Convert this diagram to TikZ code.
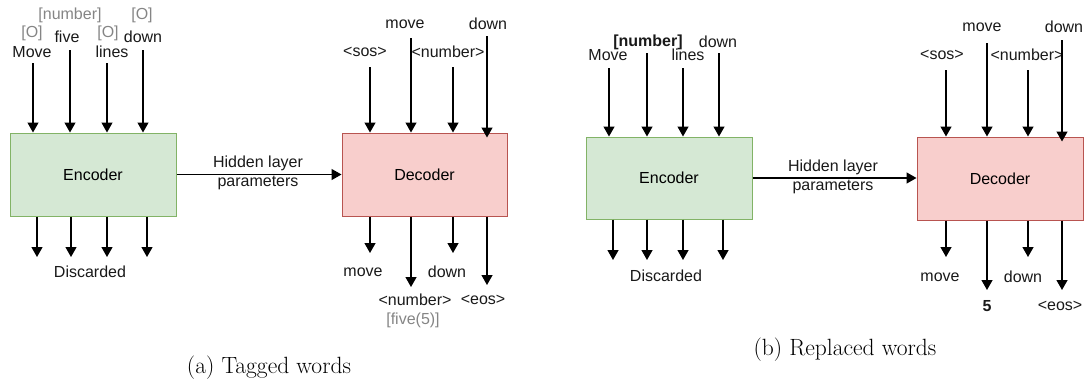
\documentclass[tikz,border=0pt]{standalone}
\usepackage{fontspec}
\setsansfont{Liberation Sans}
\usetikzlibrary{arrows.meta}
\definecolor{encfill}{HTML}{D5E8D4}
\definecolor{encdraw}{HTML}{82B366}
\definecolor{decfill}{HTML}{F8CECC}
\definecolor{decdraw}{HTML}{B85450}
\definecolor{taggray}{HTML}{858585}
\tikzset{
  lbl/.style={font=\sffamily\fontsize{16}{18}\selectfont, inner sep=0pt, text=black!90},
  tag/.style={lbl, text=taggray},
  boldlbl/.style={lbl, font=\sffamily\bfseries\fontsize{16}{18}\selectfont},
  encbox/.style={draw=encdraw, fill=encfill, line width=1pt, minimum width=166pt, minimum height=83pt, inner sep=0pt, font=\sffamily\fontsize{16}{18}\selectfont},
  decbox/.style={draw=decdraw, fill=decfill, line width=1pt, minimum width=165pt, minimum height=83pt, inner sep=0pt, font=\sffamily\fontsize{16}{18}\selectfont},
  arr/.style={line width=1.3pt, -{Triangle[length=10pt,width=11pt]}},
  subcaption/.style={font=\fontsize{23.5}{28}\selectfont, inner sep=0pt}
}
\begin{document}
\begin{tikzpicture}[x=1pt,y=-1pt]
\useasboundingbox (0,0) rectangle (1086,380);

% ---------- (a) tagged words ----------
\node[encbox] (E1) at (93,174.5) {Encoder};
\node[decbox] (D1) at (424.5,174.5) {Decoder};
\draw[arr] (E1.east) -- (D1.west);
\node[lbl] (h1a) at (258,163) {Hidden layer};
\node[lbl] (h1b) at (258,183) {parameters};

% encoder inputs
\node[lbl] (ma) at (32,52) {Move};  \node[tag] (ta1) at (32,33) {[O]};
\node[lbl] (fa) at (67,37) {five};  \node[tag] (ta2) at (70,15) {[number]};
\node[lbl] (la) at (112,52) {lines}; \node[tag] (ta3) at (108,33) {[O]};
\node[lbl] (da) at (143,37) {down}; \node[tag] (ta4) at (142,15) {[O]};
\coordinate (ei1) at (33,63);
\coordinate (ei2) at (70,50);
\coordinate (ei3) at (107,63);
\coordinate (ei4) at (143,50);
\foreach \c in {ei1,ei2,ei3,ei4} \draw[arr] (\c) -- (\c |- E1.north);

% encoder outputs
\coordinate (eo1) at (37,257);
\coordinate (eo2) at (71,257);
\coordinate (eo3) at (107,257);
\coordinate (eo4) at (147,257);
\foreach \c in {eo1,eo2,eo3,eo4} \draw[arr] (\c |- E1.south) -- (\c);
\node[lbl] (disc1) at (90,272) {Discarded};

% decoder inputs
\node[lbl] (sa) at (365,52) {<sos>};
\node[lbl] (mva) at (405,24) {move};
\node[lbl] (na) at (448,52) {<number>};
\node[lbl] (dwa) at (488,24) {down};
\coordinate (di1) at (370,67);
\coordinate (di2) at (411,38);
\coordinate (di3) at (453,67);
\coordinate (di4) at (487,36);
\foreach \c in {di1,di2,di3} \draw[arr] (\c) -- (\c |- D1.north);
\draw[arr] (di4) -- ([yshift=-5pt]di4 |- D1.north);

% decoder outputs
\coordinate (do1) at (370,253);
\coordinate (do2) at (411,287);
\coordinate (do3) at (453,253);
\coordinate (do4) at (487,285);
\foreach \c in {do1,do2,do3,do4} \draw[arr] (\c |- D1.south) -- (\c);
\node[lbl] (oa1) at (363,272) {move};
\node[lbl] (oa2) at (415,300) {<number>};
\node[tag] (oa2t) at (413,320) {[five(5)]};
\node[lbl] (oa3) at (447,272) {down};
\node[lbl] (oa4) at (483,300) {<eos>};

\node[subcaption] (capa) at (269,368) {(a) Tagged words};

% ---------- (b) replaced words ----------
\node[encbox, minimum height=82pt] (E2) at (669,178) {Encoder};
\node[decbox, minimum width=166pt] (D2) at (1000,178.5) {Decoder};
\draw[arr] (E2.east) -- (D2.west |- E2.east);
\node[lbl] (h2a) at (833,167) {Hidden layer};
\node[lbl] (h2b) at (833,187) {parameters};

% encoder inputs
\node[lbl] (mb) at (608,55) {Move};
\node[boldlbl] (nb) at (648,42) {[number]};
\node[lbl] (lb) at (688,55) {lines};
\node[lbl] (db) at (718,42) {down};
\coordinate (fi1) at (609,68);
\coordinate (fi2) at (647,53);
\coordinate (fi3) at (683,68);
\coordinate (fi4) at (719,53);
\foreach \c in {fi1,fi2,fi3,fi4} \draw[arr] (\c) -- (\c |- E2.north);

% encoder outputs
\coordinate (fo1) at (613,260);
\coordinate (fo2) at (647,260);
\coordinate (fo3) at (683,260);
\coordinate (fo4) at (723,260);
\foreach \c in {fo1,fo2,fo3,fo4} \draw[arr] (\c |- E2.south) -- (\c);
\node[lbl] (disc2) at (666,276) {Discarded};

% decoder inputs
\node[lbl] (sb) at (942,55) {<sos>};
\node[lbl] (mvb) at (982,27) {move};
\node[lbl] (nbb) at (1027,55) {<number>};
\node[lbl] (dwb) at (1064,27) {down};
\coordinate (gi1) at (946,70);
\coordinate (gi2) at (987,43);
\coordinate (gi3) at (1028,70);
\coordinate (gi4) at (1062,40);
\foreach \c in {gi1,gi2,gi3} \draw[arr] (\c) -- (\c |- D2.north);
\draw[arr] (gi4) -- ([yshift=-5pt]gi4 |- D2.north);

% decoder outputs
\coordinate (go1) at (946,257);
\coordinate (go2) at (987,290);
\coordinate (go3) at (1028,257);
\coordinate (go4) at (1062,290);
\foreach \c in {go1,go2,go3,go4} \draw[arr] (\c |- D2.south) -- (\c);
\node[lbl] (ob1) at (940,277) {move};
\node[boldlbl] (ob2) at (987,306) {5};
\node[lbl] (ob3) at (1023,277) {down};
\node[lbl] (ob4) at (1060,306) {<eos>};

\node[subcaption] (capb) at (845,350) {(b) Replaced words};
\end{tikzpicture}
\end{document}
